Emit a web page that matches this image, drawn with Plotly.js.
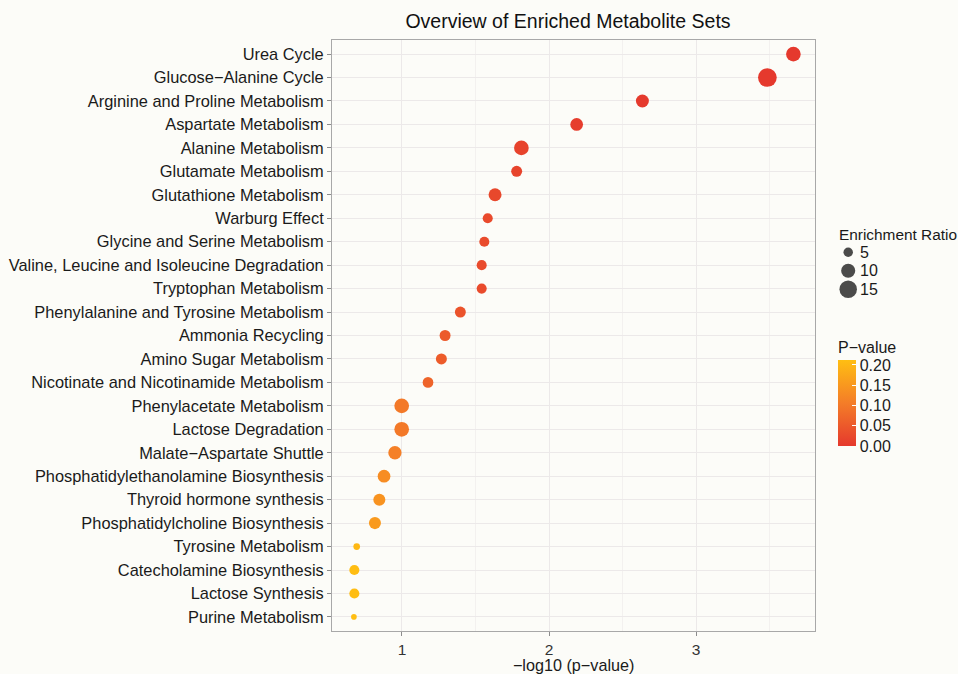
<!DOCTYPE html>
<html>
<head>
<meta charset="utf-8">
<script src="https://cdn.plot.ly/plotly-3.0.1.min.js"></script>
<style>html,body{margin:0;padding:0;background:#FCFCF8;}#chart{width:958px;height:674px;}</style>
</head>
<body>
<div id="chart"></div>
<script>
// ---- data ----
const categories = [
  "Urea Cycle",
  "Glucose\u2212Alanine Cycle",
  "Arginine and Proline Metabolism",
  "Aspartate Metabolism",
  "Alanine Metabolism",
  "Glutamate Metabolism",
  "Glutathione Metabolism",
  "Warburg Effect",
  "Glycine and Serine Metabolism",
  "Valine, Leucine and Isoleucine Degradation",
  "Tryptophan Metabolism",
  "Phenylalanine and Tyrosine Metabolism",
  "Ammonia Recycling",
  "Amino Sugar Metabolism",
  "Nicotinate and Nicotinamide Metabolism",
  "Phenylacetate Metabolism",
  "Lactose Degradation",
  "Malate\u2212Aspartate Shuttle",
  "Phosphatidylethanolamine Biosynthesis",
  "Thyroid hormone synthesis",
  "Phosphatidylcholine Biosynthesis",
  "Tyrosine Metabolism",
  "Catecholamine Biosynthesis",
  "Lactose Synthesis",
  "Purine Metabolism"
];
const negLogP = [3.662, 3.485, 2.635, 2.188, 1.812, 1.780, 1.633, 1.583, 1.560, 1.542, 1.542, 1.397,
                 1.293, 1.268, 1.177, 0.998, 0.998, 0.952, 0.878, 0.846, 0.816, 0.692, 0.676, 0.676, 0.673];
const pValues = [0.00022, 0.00033, 0.0023, 0.0065, 0.0154, 0.0166, 0.0233, 0.0261, 0.0275, 0.0287, 0.0287, 0.0401,
                 0.0509, 0.0540, 0.0665, 0.1005, 0.1005, 0.1117, 0.1324, 0.1426, 0.1528, 0.2032, 0.2109, 0.2109, 0.2123];
const enrichmentRatio = [10.8, 17.0, 8.6, 8.3, 10.8, 6.4, 8.6, 5.5, 5.5, 5.5, 5.5, 6.4,
                         6.4, 6.4, 6.1, 10.8, 10.8, 9.0, 8.3, 7.5, 7.5, 2.9, 5.5, 5.5, 2.3];
const sizeLegendValues = [5, 10, 15];
const pTickVals = [0, 0.05, 0.10, 0.15, 0.20];
const xTickVals = [1, 2, 3];

// ---- scales ----
function sizeScale(er) { return Math.sqrt(21.6 * er - 17.75); } // area-linear size scale (diameter px)
const FONT = '"Liberation Sans", Arial, Helvetica, sans-serif';
const BG = '#FCFCF8';
const GRID = '#ECE9E9';
const W = 958, H = 674, ML = 332, MT = 40, MB = 43;
const plotW = W - ML, plotH = H - MT - MB;
const px2x = p => (p - ML) / plotW;
const px2y = p => (H - MB - p) / plotH;

const mainTrace = {
  type: 'scatter', mode: 'markers',
  x: negLogP, y: categories,
  xaxis: 'x', yaxis: 'y',
  hoverinfo: 'x+y',
  marker: {
    size: enrichmentRatio.map(sizeScale),
    color: pValues,
    cmin: 0, cmax: Math.max(...pValues),
    colorscale: [[0, '#E5392D'], [0.5, '#F47D28'], [1, '#FFBE12']],
    line: {width: 0},
    opacity: 1,
    colorbar: {
      title: {text: 'P\u2212value', side: 'top', font: {family: FONT, size: 16, color: '#1a1a1a'}},
      thicknessmode: 'pixels', thickness: 18,
      lenmode: 'pixels', len: 108,
      x: px2x(838), xanchor: 'left', xpad: 0,
      y: px2y(446), yanchor: 'bottom', ypad: 0,
      outlinewidth: 0,
      tickvals: pTickVals, tickformat: '.2f',
      ticks: 'inside', ticklen: 4, tickcolor: '#FFFFFF', tickwidth: 1,
      tickfont: {family: FONT, size: 16, color: '#1a1a1a'},
      bgcolor: 'rgba(0,0,0,0)'
    }
  },
  showlegend: false
};

const sizeLegendTrace = {
  type: 'scatter', mode: 'markers',
  x: sizeLegendValues.map(() => 0.17),
  y: sizeLegendValues.map((v, i) => i),
  xaxis: 'x2', yaxis: 'y2',
  marker: {size: sizeLegendValues.map(sizeScale), color: '#000000', line: {width: 0}},
  hoverinfo: 'skip', showlegend: false
};

const annotations = [
  {xref: 'paper', yref: 'paper', x: px2x(837), y: px2y(234), xanchor: 'left', yanchor: 'middle',
   text: 'Enrichment Ratio', showarrow: false, font: {family: FONT, size: 15.4, color: '#1a1a1a'}}
].concat(sizeLegendValues.map((v, i) => ({
  xref: 'x2', yref: 'y2', x: 0.33, y: i, xanchor: 'left', yanchor: 'middle',
  text: String(v), showarrow: false, font: {family: FONT, size: 16, color: '#1a1a1a'}
})));

const layout = {
  width: W, height: H,
  paper_bgcolor: BG, plot_bgcolor: BG,
  margin: {l: ML, r: 0, t: MT, b: MB, pad: 0},
  font: {family: FONT, color: '#1a1a1a'},
  title: {text: 'Overview of Enriched Metabolite Sets', font: {family: FONT, size: 19.5, color: '#111'},
          xref: 'paper', x: px2x(568), xanchor: 'center', yref: 'container', y: 1 - 21 / H, yanchor: 'middle'},
  xaxis: {
    domain: [0, (815.3 - ML) / plotW],
    range: [0.524, 3.811],
    tickvals: xTickVals, ticktext: xTickVals.map(String),
    ticks: 'outside', ticklen: 4, tickcolor: '#8c8c8c', tickwidth: 1,
    tickfont: {family: FONT, size: 15.5, color: '#333'},
    showline: true, mirror: true, linecolor: '#A8A8A8', linewidth: 1,
    showgrid: true, gridcolor: GRID, gridwidth: 1,
    minor: {dtick: 0.5, tick0: 0.5, showgrid: true, gridcolor: GRID, gridwidth: 0.6, ticks: ''},
    zeroline: false, automargin: false,
    title: {text: '\u2212log10 (p\u2212value)', font: {family: FONT, size: 16.2, color: '#1a1a1a'}, standoff: 7}
  },
  yaxis: {
    type: 'category', categoryorder: 'array', categoryarray: categories,
    range: [categories.length - 1 + 0.6, -0.6],
    ticks: 'outside', ticklen: 4, tickcolor: '#8c8c8c', tickwidth: 1,
    tickfont: {family: FONT, size: 16.4, color: '#1a1a1a'},
    showline: true, mirror: true, linecolor: '#A8A8A8', linewidth: 1,
    showgrid: true, gridcolor: GRID, gridwidth: 1,
    zeroline: false, automargin: false
  },
  xaxis2: {domain: [px2x(838), px2x(898)], range: [0, 1], visible: false, fixedrange: true, anchor: 'y2'},
  yaxis2: {domain: [px2y(298.5), px2y(243)], range: [2.5, -0.5], visible: false, fixedrange: true, anchor: 'x2'},
  annotations: annotations,
  showlegend: false
};

Plotly.newPlot('chart', [mainTrace, sizeLegendTrace], layout, {displayModeBar: false, staticPlot: true});
</script>
</body>
</html>
